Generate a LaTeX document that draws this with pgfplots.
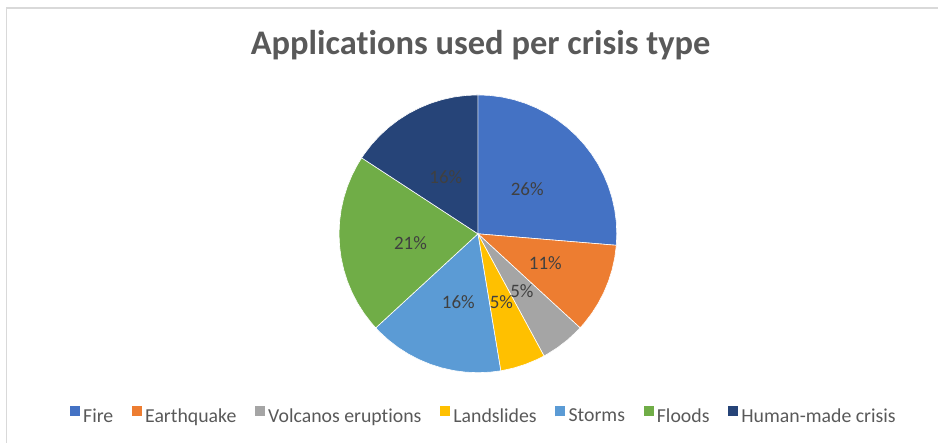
\documentclass[border=0pt]{standalone}
\usepackage{pgfplots}
\pgfplotsset{compat=1.18}
\usepackage{fontspec}
\setmainfont{Carlito}[Ligatures=NoCommon]
\definecolor{cFire}{HTML}{4472C4}
\definecolor{cQuake}{HTML}{ED7D31}
\definecolor{cVolc}{HTML}{A5A5A5}
\definecolor{cLand}{HTML}{FFC000}
\definecolor{cStorm}{HTML}{5B9BD5}
\definecolor{cFlood}{HTML}{70AD47}
\definecolor{cHuman}{HTML}{264478}
\definecolor{titlegray}{HTML}{595959}
\definecolor{labelgray}{HTML}{404040}
\definecolor{bordergray}{HTML}{D9D9D9}
\begin{document}
\begin{tikzpicture}[x=1pt,y=1pt]
\path (0,0) rectangle (939,443);
\draw[bordergray, line width=1.5pt] (6.5,0) -- (6.5,435) -- (939,435);
\node[anchor=base, text=titlegray, font=\fontsize{34.5}{41}\selectfont\bfseries] at (481,388) {Applications used per crisis type};
\begin{axis}[
  x=139pt, y=139pt,
  xmin=-1, xmax=1, ymin=-1, ymax=1,
  hide axis, clip=false,
  at={(478.3pt,209pt)}, anchor=origin,
  legend columns=-1,
  legend image code/.code={\path (0pt,0pt) rectangle (13pt,0pt);\fill[#1,draw=none] (0pt,0pt) rectangle (10pt,10pt);},
  legend style={draw=none, fill=none, at={(axis cs:0.034,-1.309)}, anchor=center,
    font=\fontsize{19.8}{23}\selectfont, text=titlegray,
    nodes={inner xsep=0pt, inner ysep=1pt},
    /tikz/every even column/.append style={column sep=18.3pt}},
]
% Fire 26%
\addplot[data cs=polar, fill=cFire, draw=white, line width=0.6pt] coordinates {
(0,0) (90,1) (85,1) (80,1) (75,1) (70,1) (65,1) (60,1) (55,1) (50,1) (45,1) (40,1) (35,1) (30,1) (25,1) (20,1) (15,1) (10,1) (5,1) (0,1) (-4.737,1)} -- cycle;
% Earthquake 11%
\addplot[data cs=polar, fill=cQuake, draw=white, line width=0.6pt] coordinates {
(0,0) (-4.737,1) (-10,1) (-15,1) (-20,1) (-25,1) (-30,1) (-35,1) (-40,1) (-42.632,1)} -- cycle;
% Volcanos eruptions 5%
\addplot[data cs=polar, fill=cVolc, draw=white, line width=0.6pt] coordinates {
(0,0) (-42.632,1) (-45,1) (-50,1) (-55,1) (-60,1) (-61.579,1)} -- cycle;
% Landslides 5%
\addplot[data cs=polar, fill=cLand, draw=white, line width=0.6pt] coordinates {
(0,0) (-61.579,1) (-65,1) (-70,1) (-75,1) (-80,1) (-80.526,1)} -- cycle;
% Storms 16%
\addplot[data cs=polar, fill=cStorm, draw=white, line width=0.6pt] coordinates {
(0,0) (-80.526,1) (-85,1) (-90,1) (-95,1) (-100,1) (-105,1) (-110,1) (-115,1) (-120,1) (-125,1) (-130,1) (-135,1) (-137.368,1)} -- cycle;
% Floods 21%
\addplot[data cs=polar, fill=cFlood, draw=white, line width=0.6pt] coordinates {
(0,0) (-137.368,1) (-140,1) (-145,1) (-150,1) (-155,1) (-160,1) (-165,1) (-170,1) (-175,1) (-180,1) (-185,1) (-190,1) (-195,1) (-200,1) (-205,1) (-210,1) (-213.158,1)} -- cycle;
% Human-made crisis 16%
\addplot[data cs=polar, fill=cHuman, draw=white, line width=0.6pt] coordinates {
(0,0) (-213.158,1) (-215,1) (-220,1) (-225,1) (-230,1) (-235,1) (-240,1) (-245,1) (-250,1) (-255,1) (-260,1) (-265,1) (-270,1)} -- cycle;
\legend{Fire, Earthquake, Volcanos eruptions, Landslides, Storms, Floods, Human-made crisis}
% data labels
\addplot[data cs=polar, draw=none, mark=none, forget plot,
  nodes near coords, point meta=explicit symbolic,
  nodes near coords align=center,
  every node near coord/.append style={font=\fontsize{19}{22}\selectfont, text=labelgray, inner sep=0pt}]
 coordinates {
 (42.3,0.48) [26\%]
 (-23.7,0.53) [11\%]
 (-52.5,0.52) [5\%]
 (-71,0.52) [5\%]
 (-106,0.51) [16\%]
 (-172.5,0.49) [21\%]
 (119.4,0.47) [16\%]
 };
\end{axis}
\end{tikzpicture}
\end{document}
